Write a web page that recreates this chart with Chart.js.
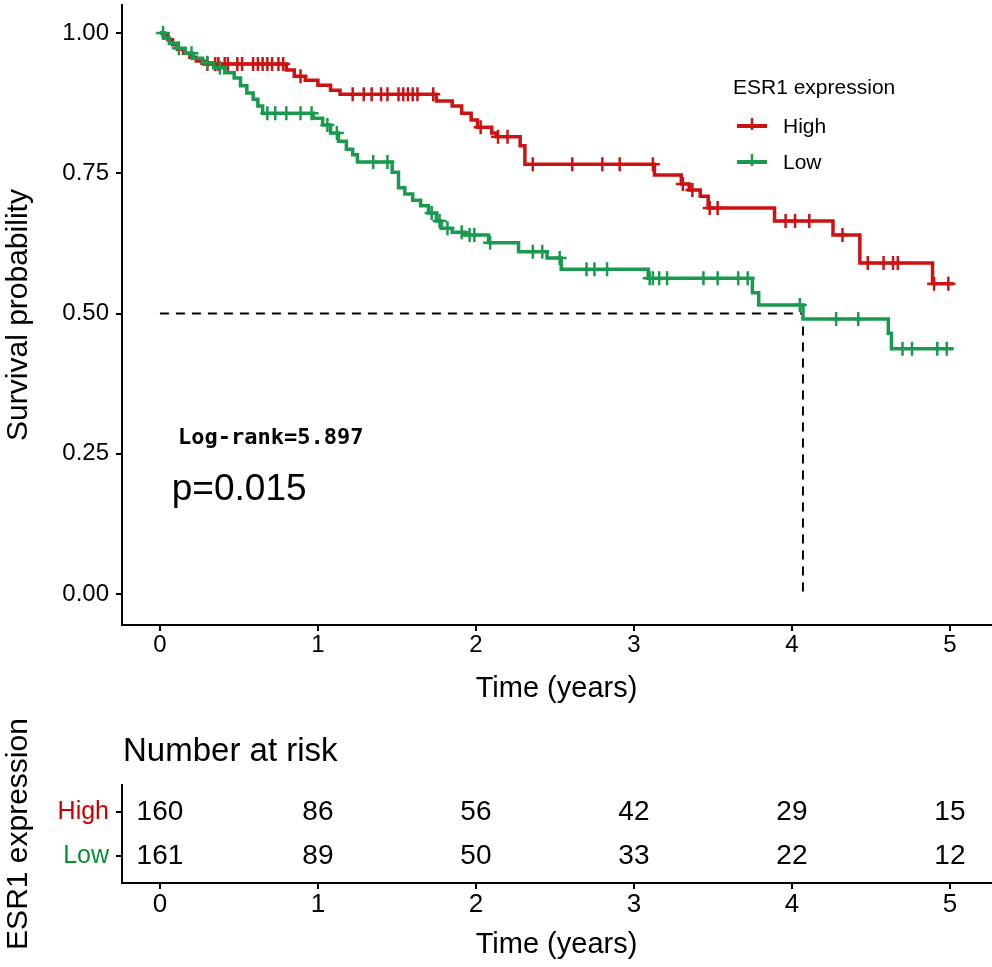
<!DOCTYPE html>
<html><head><meta charset="utf-8">
<script src="https://cdn.jsdelivr.net/npm/chart.js@4.4.1/dist/chart.umd.min.js"></script>
<style>
html,body{margin:0;padding:0;background:#fff;}
#wrap{position:relative;width:992px;height:967px;overflow:hidden;background:#fff;}
#km{position:absolute;left:0;top:0;}
#risk{position:absolute;left:0;top:690px;}
</style></head><body>
<div id="wrap"><canvas id="km" width="992" height="720"></canvas><canvas id="risk" width="992" height="277"></canvas></div>
<script>
// ---------- data ----------
const groupNames = ['High', 'Low'];
const highTimes = [0, .02, .05, .08, .11, .15, .19, .23, .28, .80, .85, .92, 1.00, 1.08, 1.14, 1.75, 1.85, 1.91, 1.97, 2.01, 2.10, 2.13, 2.28, 2.31, 3.13, 3.30, 3.35, 3.42, 3.47, 3.89, 4.26, 4.43, 4.89, 5.02];
const highSurv  = [1, .995, .988, .979, .971, .964, .957, .950, .945, .934, .923, .916, .907, .898, .891, .879, .870, .857, .845, .832, .822, .815, .799, .766, .747, .731, .720, .709, .688, .665, .640, .590, .553, .553];
const lowTimes  = [0, .03, .06, .11, .16, .21, .27, .34, .41, .47, .51, .55, .59, .62, .65, .97, 1.03, 1.08, 1.13, 1.18, 1.22, 1.25, 1.47, 1.51, 1.55, 1.60, 1.65, 1.70, 1.75, 1.78, 1.85, 1.93, 2.08, 2.27, 2.45, 2.54, 3.09, 3.75, 3.79, 4.07, 4.61, 4.63, 5.02];
const lowSurv   = [1, .991, .982, .973, .964, .955, .947, .938, .929, .920, .906, .893, .882, .870, .857, .848, .836, .822, .807, .793, .783, .770, .752, .724, .713, .702, .692, .679, .665, .652, .645, .640, .626, .610, .599, .579, .563, .537, .515, .490, .465, .437, .437];
const highCensor = [.30, .35, .37, .41, .43, .49, .52, .59, .62, .65, .68, .71, .75, .78, .89, 1.22, 1.29, 1.34, 1.40, 1.44, 1.51, 1.54, 1.57, 1.60, 1.63, 1.73, 2.03, 2.14, 2.20, 2.36, 2.61, 2.80, 2.91, 3.12, 3.31, 3.37, 3.48, 3.53, 3.96, 4.02, 4.11, 4.32, 4.48, 4.58, 4.64, 4.67, 4.90, 4.99];
const lowCensor  = [.02, .12, .20, .30, .38, .68, .73, .80, .89, .96, 1.06, 1.12, 1.35, 1.44, 1.72, 1.77, 1.82, 1.91, 1.96, 1.99, 2.09, 2.36, 2.42, 2.53, 2.70, 2.75, 2.83, 3.10, 3.12, 3.16, 3.21, 3.44, 3.53, 3.66, 3.72, 4.05, 4.28, 4.42, 4.70, 4.76, 4.92, 4.98];
const medianTime = 4.07;
const medianSurv = 0.5;
const xTicks = [0, 1, 2, 3, 4, 5];
const yTicks = [0, 0.25, 0.5, 0.75, 1];
const riskTimes = [0, 1, 2, 3, 4, 5];
const riskHigh = [160, 86, 56, 42, 29, 15];
const riskLow  = [161, 89, 50, 33, 22, 12];
const logRankText = 'Log-rank=5.897';
const pValueText = 'p=0.015';

// ---------- styles ----------
const RED = '#CC1212';
const GREEN = '#1A9A4E';
const FONT = "'Liberation Sans', Arial, sans-serif";
Chart.defaults.font.family = FONT;
Chart.defaults.color = '#000';

function survAt(times, surv, t) {
  let s = surv[0];
  for (let i = 0; i < times.length; i++) { if (times[i] <= t) s = surv[i]; }
  return s;
}
const pts = (ts, ss) => ts.map((t, i) => ({x: t, y: ss[i]}));
const censorPts = (cs, ts, ss) => cs.map(t => ({x: t, y: survAt(ts, ss, t)}));

const axisCommon = {
  border: {display: true, color: '#000', width: 2},
  grid: {drawOnChartArea: false, drawTicks: true, tickLength: 6, color: '#000', lineWidth: 2}
};
function fixX(h) { return s => { s.height = h; s.paddingLeft = 0; s.paddingRight = 0; }; }
function fixY(w) { return s => { s.width = w; s.paddingTop = 0; s.paddingBottom = 0; }; }

const legendPlugin = {
  id: 'kmLegend',
  afterDraw(chart) {
    const ctx = chart.ctx;
    ctx.save();
    ctx.fillStyle = '#000';
    ctx.textBaseline = 'middle';
    ctx.textAlign = 'left';
    ctx.font = '21px ' + FONT;
    ctx.fillText('ESR1 expression', 733, 88);
    const items = [{name: groupNames[0], color: RED, y: 126}, {name: groupNames[1], color: GREEN, y: 162}];
    items.forEach(it => {
      ctx.strokeStyle = it.color;
      ctx.lineWidth = 4;
      ctx.beginPath(); ctx.moveTo(737, it.y); ctx.lineTo(767, it.y); ctx.stroke();
      ctx.lineWidth = 2.5;
      ctx.beginPath(); ctx.moveTo(752, it.y - 8); ctx.lineTo(752, it.y + 4); ctx.stroke();
      ctx.fillStyle = '#000';
      ctx.fillText(it.name, 783, it.y + 1);
    });
    const xs = chart.scales.x, ys = chart.scales.y;
    ctx.font = 'bold 22px "DejaVu Sans Mono", "Liberation Mono", monospace';
    ctx.fillText(logRankText, xs.getPixelForValue(0.115), ys.getPixelForValue(0.278));
    ctx.font = '37px ' + FONT;
    ctx.fillText(pValueText, xs.getPixelForValue(0.075), ys.getPixelForValue(0.185));
    ctx.restore();
  }
};

new Chart(document.getElementById('km'), {
  type: 'line',
  data: {
    datasets: [
      {label: 'Low', data: pts(lowTimes, lowSurv), stepped: 'before', borderColor: GREEN, borderWidth: 3.5, pointRadius: 0, fill: false, order: 1},
      {label: 'Low censor', data: censorPts(lowCensor, lowTimes, lowSurv), showLine: false, pointStyle: 'cross', pointRadius: 7, pointBorderWidth: 2.5, borderColor: GREEN, backgroundColor: GREEN, order: 1},
      {label: 'High', data: pts(highTimes, highSurv), stepped: 'before', borderColor: RED, borderWidth: 3.5, pointRadius: 0, fill: false, order: 2},
      {label: 'High censor', data: censorPts(highCensor, highTimes, highSurv), showLine: false, pointStyle: 'cross', pointRadius: 7, pointBorderWidth: 2.5, borderColor: RED, backgroundColor: RED, order: 2},
      {label: 'median', data: [{x: 0, y: medianSurv}, {x: medianTime, y: medianSurv}, {x: medianTime, y: 0}], borderColor: '#000', borderWidth: 2, borderDash: [9, 7], pointRadius: 0, fill: false, order: 3}
    ]
  },
  options: {
    responsive: false, animation: false, devicePixelRatio: 1,
    layout: {autoPadding: false, padding: {top: 5, right: 1, left: 0, bottom: 0}},
    plugins: {legend: {display: false}, tooltip: {enabled: false}},
    scales: {
      x: Object.assign({}, axisCommon, {
        type: 'linear', min: -0.24, max: 5.26,
        afterBuildTicks: s => { s.ticks = xTicks.map(v => ({value: v})); },
        afterFit: fixX(95),
        ticks: {font: {size: 24}, padding: 0, color: '#000', maxRotation: 0},
        title: {display: true, text: 'Time (years)', font: {size: 29}, padding: {top: 0, bottom: 14}, color: '#000'}
      }),
      y: Object.assign({}, axisCommon, {
        type: 'linear', min: -0.0553, max: 1.05,
        afterBuildTicks: s => { s.ticks = yTicks.map(v => ({value: v})); },
        afterFit: fixY(122),
        ticks: {font: {size: 24}, padding: 7, color: '#000', callback: v => Number(v).toFixed(2)},
        title: {display: true, text: 'Survival probability', font: {size: 30}, padding: {top: 1, bottom: 0}, color: '#000'}
      })
    }
  },
  plugins: [legendPlugin]
});

// ---------- risk table ----------
const riskPlugin = {
  id: 'riskText',
  afterDatasetsDraw(chart) {
    const ctx = chart.ctx;
    ctx.save();
    ctx.fillStyle = '#000';
    ctx.textBaseline = 'middle';
    ctx.textAlign = 'center';
    ctx.font = '28px ' + FONT;
    const vals = [riskHigh, riskLow];
    chart.data.datasets.forEach((ds, di) => {
      chart.getDatasetMeta(di).data.forEach((el, i) => {
        ctx.fillText(String(vals[di][i]), el.x, el.y);
      });
    });
    ctx.textAlign = 'left';
    ctx.font = '33px ' + FONT;
    ctx.fillText('Number at risk', 123, 62);
    ctx.restore();
  }
};

new Chart(document.getElementById('risk'), {
  type: 'scatter',
  data: {
    datasets: [
      {label: 'High', data: riskTimes.map(t => ({x: t, y: 1})), pointRadius: 0},
      {label: 'Low', data: riskTimes.map(t => ({x: t, y: 0})), pointRadius: 0}
    ]
  },
  options: {
    responsive: false, animation: false, devicePixelRatio: 1,
    layout: {autoPadding: false, padding: {top: 95, right: 1, left: 0, bottom: 0}},
    plugins: {legend: {display: false}, tooltip: {enabled: false}},
    scales: {
      x: Object.assign({}, axisCommon, {
        type: 'linear', min: -0.24, max: 5.26,
        afterBuildTicks: s => { s.ticks = xTicks.map(v => ({value: v})); },
        afterFit: fixX(84),
        ticks: {font: {size: 26}, padding: 0, color: '#000', maxRotation: 0},
        title: {display: true, text: 'Time (years)', font: {size: 29}, padding: {top: 0, bottom: 5}, color: '#000'}
      }),
      y: Object.assign({}, axisCommon, {
        type: 'linear', min: -0.614, max: 1.614,
        afterBuildTicks: s => { s.ticks = [{value: 1}, {value: 0}]; },
        afterFit: fixY(122),
        ticks: {font: {size: 25}, padding: 7, callback: v => (v === 1 ? groupNames[0] : groupNames[1]),
                color: c => (c.tick && c.tick.value === 1 ? '#C80000' : '#0A8F35')},
        title: {display: true, text: 'ESR1 expression', font: {size: 30}, padding: {top: 1, bottom: 0}, color: '#000'}
      })
    }
  },
  plugins: [riskPlugin]
});
</script>
</body></html>
